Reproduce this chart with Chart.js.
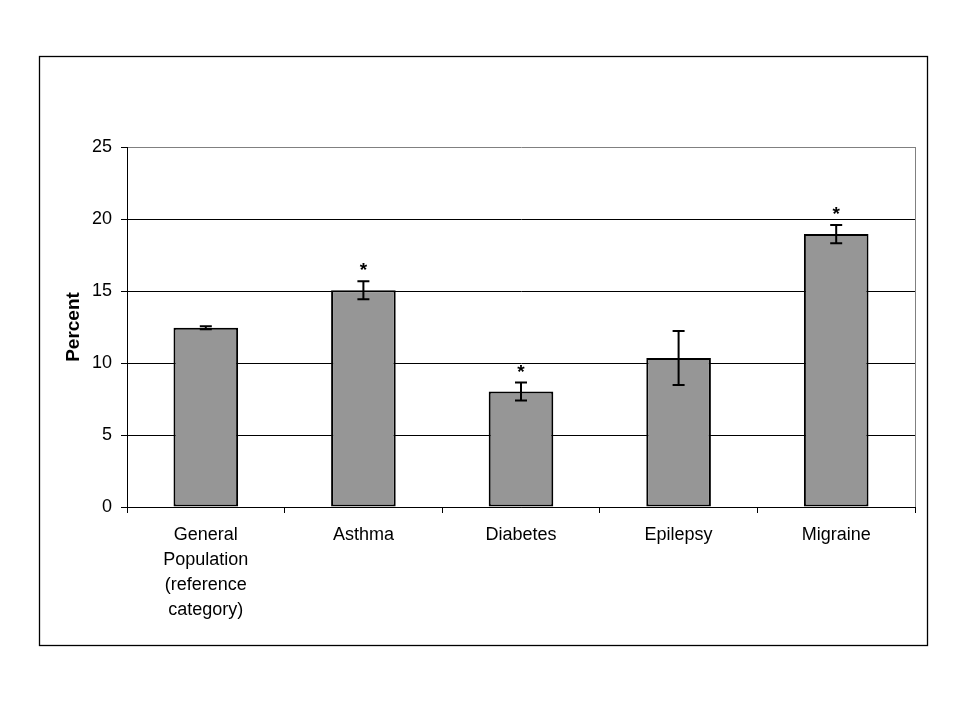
<!DOCTYPE html>
<html>
<head>
<meta charset="utf-8">
<script src="https://cdn.jsdelivr.net/npm/chart.js@4/dist/chart.umd.min.js"></script>
<style>
  html, body { margin: 0; padding: 0; background: #fff; }
  #wrap { width: 960px; height: 720px; position: relative; }
</style>
</head>
<body>
<div id="wrap"><canvas id="chart" width="960" height="720"></canvas></div>
<script>
// ── DATA ───────────────────────────────────────────────────────────────────
const categories = [
  ["General", "Population", "(reference", "category)"],
  "Asthma",
  "Diabetes",
  "Epilepsy",
  "Migraine",
];
const percents = [12.45, 15.05, 8.02, 10.35, 18.95];
const errors   = [0.1, 0.63, 0.62, 1.88, 0.64];
const signif   = [false, true, true, false, true];
const yTicks   = [0, 5, 10, 15, 20, 25];

Chart.defaults.font.family = "'Liberation Sans', Arial, sans-serif";
Chart.defaults.font.size = 18;
Chart.defaults.color = "#000";

// frame + error bars + significance stars
const decor = {
  id: "decor",
  beforeDraw(chart) {
    const c = chart.ctx;
    c.save();
    c.fillStyle = "#fff";
    c.fillRect(0, 0, chart.width, chart.height);
    c.strokeStyle = "#000";
    c.lineWidth = 1.3;
    c.strokeRect(39.5, 56.5, 888, 589);
    c.restore();
  },
  afterDatasetsDraw(chart) {
    const c = chart.ctx;
    const { right, top, bottom } = chart.chartArea;
    const ys = chart.scales.y;
    const meta = chart.getDatasetMeta(0);
    c.save();
    // gray right edge of plot area
    c.strokeStyle = "#808080";
    c.lineWidth = 1;
    c.beginPath();
    c.moveTo(Math.round(right) + 0.5, top);
    c.lineTo(Math.round(right) + 0.5, bottom);
    c.stroke();

    c.strokeStyle = "#000";
    c.lineWidth = 2;
    c.fillStyle = "#000";
    c.textAlign = "center";
    c.textBaseline = "alphabetic";
    c.font = "bold 19px 'Liberation Sans', Arial, sans-serif";
    meta.data.forEach((bar, i) => {
      const x = bar.x;
      const yHi = ys.getPixelForValue(percents[i] + errors[i]);
      const yLo = ys.getPixelForValue(percents[i] - errors[i]);
      c.beginPath();
      c.moveTo(x, yHi); c.lineTo(x, yLo);
      c.moveTo(x - 6, yHi); c.lineTo(x + 6, yHi);
      c.moveTo(x - 6, yLo); c.lineTo(x + 6, yLo);
      c.stroke();
      if (signif[i]) c.fillText("*", x, yHi - 5);
    });
    c.restore();
  },
};

new Chart(document.getElementById("chart"), {
  type: "bar",
  data: {
    labels: categories,
    datasets: [{
      data: percents,
      backgroundColor: "#969696",
      borderColor: "#000",
      borderWidth: 2,
      borderSkipped: false,
      categoryPercentage: 1,
      barPercentage: 0.41,
    }],
  },
  options: {
    responsive: false, animation: false,
    layout: { padding: { top: 147, right: 45, left: 0, bottom: 0 } },
    plugins: { legend: { display: false }, tooltip: { enabled: false } },
    scales: {
      x: {
        afterFit: s => { s.height = 213; },
        grid: { offset: true, drawOnChartArea: false, color: "#000", tickLength: 6 },
        border: { display: true, color: "#000", width: 1 },
        ticks: { color: "#000", padding: 10, maxRotation: 0, font: { size: 18, lineHeight: 1.38 } },
      },
      y: {
        min: 0, max: 25,
        afterFit: s => { s.width = 127; },
        afterBuildTicks: s => { s.ticks = yTicks.map(v => ({ value: v })); },
        grid: {
          color: c => (c.tick && c.tick.value === 25 ? "#808080" : "#000"),
          tickColor: "#000", tickLength: 6, lineWidth: 1,
        },
        border: { display: true, color: "#000", width: 1 },
        ticks: { color: "#000", padding: 9, font: { size: 18 } },
        title: {
          display: true, text: "Percent", color: "#000",
          font: { size: 19, weight: "bold" },
          padding: { top: 62, bottom: 0 },
        },
      },
    },
  },
  plugins: [decor],
});
</script>
</body>
</html>
